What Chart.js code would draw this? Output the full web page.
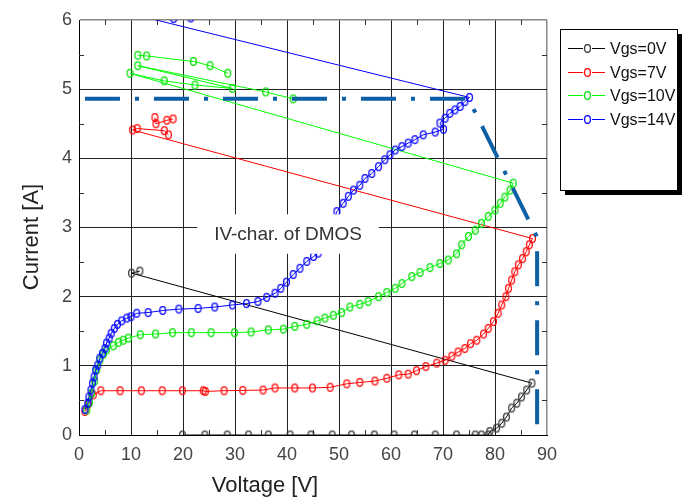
<!DOCTYPE html>
<html>
<head>
<meta charset="utf-8">
<title>IV-char. of DMOS</title>
<script src="https://cdn.jsdelivr.net/npm/chart.js"></script>
<style>
  html, body { margin: 0; padding: 0; background: #fff; }
</style>
</head>
<body>
<canvas id="iv_chart" width="688" height="497"></canvas>
<script>
// Voltage [V] / Current [A] readings, one pair of arrays per gate voltage.
// null marks a break in the trace.
const v0 = [19.9, 24.2, 28.5, 32.6, 36.4, 40.6, 44.6, 48.7, 52.4, 56.8, 60.6, 64.5, 68.5, 72.6, 76.2, 77.4, 78.7,
  79.0, 80.3, 81.3, 82.2, 83.2, 84.2, 85.1, 86.1, 87.1, 10.1, 11.7];
const i0 = [0, 0, 0, 0, 0, 0, 0, 0, 0, 0, 0, 0, 0, 0, 0, 0, 0,
  0.05, 0.10, 0.17, 0.26, 0.39, 0.46, 0.55, 0.65, 0.75, 2.34, 2.37];

const v7 = [1.15, 1.8, 2.75, 4.2, 7.9, 12.0, 16.0, 19.9, 23.9, 24.3, 27.9, 31.5, 35.4, 37.7, 41.5, 44.9, 48.3,
  51.5, 54.0, 56.9, 59.2, 61.5, 63.3, 64.9, 66.7, 68.8, 70.4, 71.7, 72.9, 74.2, 75.3, 76.5, 77.8, 78.7, 79.7,
  80.6, 81.3, 82.1, 82.6, 83.2, 83.8, 84.5, 85.3, 86.0, 86.6, 87.2,
  10.3, 11.2, 16.4, 17.2, null, 14.6, 14.8, 16.9, 18.1];
const i7 = [0.34, 0.45, 0.58, 0.64, 0.64, 0.64, 0.64, 0.64, 0.64, 0.63, 0.64, 0.645, 0.65, 0.68, 0.68, 0.68, 0.69,
  0.74, 0.76, 0.78, 0.82, 0.87, 0.88, 0.93, 0.99, 1.04, 1.08, 1.14, 1.20, 1.25, 1.32, 1.37, 1.46, 1.54, 1.64,
  1.76, 1.88, 2.00, 2.12, 2.24, 2.36, 2.46, 2.55, 2.65, 2.75, 2.84,
  4.41, 4.43, 4.40, 4.34, null, 4.59, 4.50, 4.55, 4.57];

const v10 = [1.5, 2.0, 2.4, 3.0, 3.4, 4.0, 4.7, 5.3, 6.6, 7.6, 8.5, 9.5, 11.8, 14.7, 18.0, 21.6, 25.4, 29.9, 33.1,
  36.4, 39.3, 41.5, 43.8, 45.8, 47.3, 48.9, 50.5, 52.1, 54.0, 55.6, 57.6, 59.2, 60.8, 62.1, 64.0, 65.6, 67.5,
  69.4, 71.0, 72.6, 73.6, 74.9, 76.2, 77.4, 78.7, 80.0, 81.0, 81.9, 82.9, 83.5,
  9.8, 16.4, 22.3, 29.5, 11.3, 35.9, 41.2, null, 11.3, 13.0, 22.0, 25.2, 28.6];
const i10 = [0.36, 0.47, 0.60, 0.78, 0.94, 1.08, 1.17, 1.23, 1.29, 1.34, 1.37, 1.40, 1.45, 1.46, 1.48, 1.48, 1.48, 1.48, 1.49,
  1.52, 1.53, 1.57, 1.60, 1.65, 1.69, 1.73, 1.77, 1.85, 1.89, 1.93, 2.00, 2.06, 2.12, 2.19, 2.29, 2.35, 2.42,
  2.48, 2.53, 2.62, 2.75, 2.87, 2.96, 3.06, 3.16, 3.25, 3.35, 3.44, 3.54, 3.64,
  5.23, 5.12, 5.06, 5.01, 5.34, 4.96, 4.86, null, 5.49, 5.48, 5.40, 5.34, 5.23];

const v14 = [1.15, 1.7, 1.9, 2.3, 2.6, 2.9, 3.2, 3.6, 4.0, 4.5, 5.0, 5.3, 5.8, 6.2, 6.8, 7.4, 8.2, 9.2, 10.0, 11.1,
  13.3, 16.1, 19.2, 22.9, 26.1, 29.5, 32.2, 34.4, 36.1, 37.7, 38.8, 39.9, 41.2, 42.5, 43.8, 45.1, 46.0, 47.0,
  48.2, 49.6, 50.8, 51.8, 52.8, 54.0, 55.0, 56.3, 57.6, 58.8, 59.8, 60.8, 62.1, 63.3, 64.6, 66.2, 68.5, 70.1,
  69.4, 70.4, 71.3, 72.3, 73.3, 74.2, 75.1, 10.0, 18.2, 21.5];
const i14 = [0.37, 0.46, 0.55, 0.65, 0.75, 0.84, 0.94, 1.01, 1.11, 1.18, 1.25, 1.33, 1.40, 1.47, 1.54, 1.60, 1.65, 1.69, 1.71, 1.76,
  1.77, 1.80, 1.82, 1.83, 1.85, 1.88, 1.90, 1.93, 1.99, 2.05, 2.12, 2.21, 2.32, 2.41, 2.51, 2.58, 2.63, 2.76,
  2.95, 3.23, 3.35, 3.45, 3.54, 3.61, 3.71, 3.78, 3.88, 3.98, 4.05, 4.12, 4.17, 4.22, 4.27, 4.34, 4.38, 4.42,
  4.51, 4.58, 4.65, 4.70, 4.75, 4.82, 4.88, 6.09, 6.02, 6.03];

// thick dash-dot outline of the operating area
const vLimit = [1.15, 74.9, 88.1, 88.1];
const iLimit = [4.86, 4.86, 2.86, 0];

const seriesNames = ['Vgs=0V', 'Vgs=7V', 'Vgs=10V', 'Vgs=14V'];
const seriesColors = ['#000000', '#ff0000', '#00ff00', '#0000ff'];
const markerColors = ['#333333', '#ff0000', '#00e000', '#0000ff'];
const xTicks = [0, 10, 20, 30, 40, 50, 60, 70, 80, 90];
const yTicks = [0, 1, 2, 3, 4, 5, 6];
const xMinor = [5, 15, 25, 35, 45, 55, 65, 75, 85];
const yMinor = [0.5, 1.5, 2.5, 3.5, 4.5, 5.5];
const noteText = 'IV-char. of DMOS';

const FONT = "'Liberation Sans', Arial, Helvetica, sans-serif";

function pairs(vs, is) {
  return vs.map((v, k) => ({ x: v, y: is[k] }));
}

// small hollow ellipse, like the original plotting tool draws
function marker(color) {
  const c = document.createElement('canvas');
  c.width = 9; c.height = 11;
  const g = c.getContext('2d');
  g.strokeStyle = color;
  g.lineWidth = 1.25;
  g.beginPath();
  g.ellipse(4.5, 5.5, 2.9, 3.8, 0, 0, Math.PI * 2);
  g.stroke();
  return c;
}

const traces = [[v0, i0], [v7, i7], [v10, i10], [v14, i14]];

const datasets = [{
  label: 'limit',
  data: pairs(vLimit, iLimit),
  borderColor: '#0d5fa6',
  borderWidth: 4,
  borderDash: [35, 15, 4, 15],
  borderCapStyle: 'butt',
  pointRadius: 0,
  order: 0
}];
traces.forEach((t, k) => {
  datasets.push({
    label: seriesNames[k],
    data: pairs(t[0], t[1]),
    borderColor: seriesColors[k],
    borderWidth: 1,
    pointStyle: marker(markerColors[k]),
    pointRadius: 4,
    order: 4 - k
  });
});

const decorations = {
  id: 'decorations',
  afterDatasetsDraw(chart) {
    const { ctx, scales: { x, y } } = chart;
    // note with a white box over the grid
    const l = x.getPixelForValue(22.7), r = x.getPixelForValue(57.7);
    const t = y.getPixelForValue(3.19), b = y.getPixelForValue(2.62);
    ctx.save();
    ctx.fillStyle = '#fff';
    ctx.fillRect(l, t, r - l, b - t);
    ctx.fillStyle = '#333';
    ctx.font = '19px ' + FONT;
    ctx.textAlign = 'center';
    ctx.textBaseline = 'middle';
    ctx.fillText(noteText, (l + r) / 2, (t + b) / 2 + 1);
    ctx.restore();
  },
  afterDraw(chart) {
    const { ctx, chartArea: a, scales: { x, y } } = chart;
    ctx.save();
    // minor ticks, inside on all four sides
    ctx.strokeStyle = '#333';
    ctx.lineWidth = 1;
    ctx.beginPath();
    xMinor.forEach(v => {
      const px = Math.round(x.getPixelForValue(v)) + 0.5;
      ctx.moveTo(px, a.bottom); ctx.lineTo(px, a.bottom - 5);
      ctx.moveTo(px, a.top); ctx.lineTo(px, a.top + 5);
    });
    yMinor.forEach(v => {
      const py = Math.round(y.getPixelForValue(v)) + 0.5;
      ctx.moveTo(a.left, py); ctx.lineTo(a.left + 5, py);
      ctx.moveTo(a.right, py); ctx.lineTo(a.right - 5, py);
    });
    ctx.stroke();

    // axis titles
    ctx.fillStyle = '#222';
    ctx.font = '22px ' + FONT;
    ctx.textAlign = 'center';
    ctx.textBaseline = 'alphabetic';
    ctx.fillText('Voltage [V]', 265, 492);
    ctx.translate(38, 237);
    ctx.rotate(-Math.PI / 2);
    ctx.fillText('Current [A]', 0, 0);
    ctx.restore();

    // legend box with drop shadow
    ctx.save();
    const lx = 560, ly = 29, lw = 117, lh = 161;
    ctx.fillStyle = '#000';
    ctx.fillRect(lx + 5, ly + 5, lw, lh);
    ctx.fillStyle = '#fff';
    ctx.fillRect(lx, ly, lw, lh);
    ctx.strokeStyle = '#000';
    ctx.lineWidth = 1;
    ctx.strokeRect(lx + 0.5, ly + 0.5, lw, lh);
    ctx.font = '16px ' + FONT;
    ctx.textAlign = 'left';
    ctx.textBaseline = 'middle';
    seriesNames.forEach((name, k) => {
      const cy = Math.round(48 + k * 23.6) + 0.5;
      ctx.strokeStyle = seriesColors[k];
      ctx.beginPath();
      ctx.moveTo(568, cy); ctx.lineTo(583, cy);
      ctx.moveTo(592, cy); ctx.lineTo(605, cy);
      ctx.stroke();
      ctx.drawImage(marker(markerColors[k]), 583, cy - 5.5);
      ctx.fillStyle = '#111';
      ctx.fillText(name, 610, cy + 1);
    });
    ctx.restore();
  }
};

new Chart(document.getElementById('iv_chart').getContext('2d'), {
  type: 'line',
  data: { datasets: datasets },
  options: {
    responsive: false,
    animation: false,
    events: [],
    layout: { padding: { top: 20, right: 141, bottom: 0, left: 0 } },
    plugins: { legend: { display: false }, tooltip: { enabled: false } },
    elements: { line: { tension: 0 } },
    scales: {
      x: {
        type: 'linear',
        min: 0,
        max: 90,
        afterFit: s => { s.height = 62; },
        afterBuildTicks: s => { s.ticks = xTicks.map(v => ({ value: v })); },
        ticks: { color: '#444', padding: 9, font: { family: FONT, size: 18 } },
        grid: {
          drawTicks: false,
          color: c => (c.tick && c.tick.value === 90 ? '#888' : '#222'),
          lineWidth: c => (c.tick && c.tick.value === 90 ? 1.5 : 1)
        },
        border: { color: '#000', width: 1 }
      },
      y: {
        type: 'linear',
        min: 0,
        max: 6,
        afterFit: s => { s.width = 79; },
        afterBuildTicks: s => { s.ticks = yTicks.map(v => ({ value: v })); },
        ticks: { color: '#444', padding: 7, font: { family: FONT, size: 18 } },
        grid: {
          drawTicks: false,
          color: c => (c.tick && c.tick.value === 6 ? '#888' : '#222'),
          lineWidth: c => (c.tick && c.tick.value === 6 ? 1.5 : 1)
        },
        border: { color: '#000', width: 1 }
      }
    }
  },
  plugins: [decorations]
});
</script>
</body>
</html>
